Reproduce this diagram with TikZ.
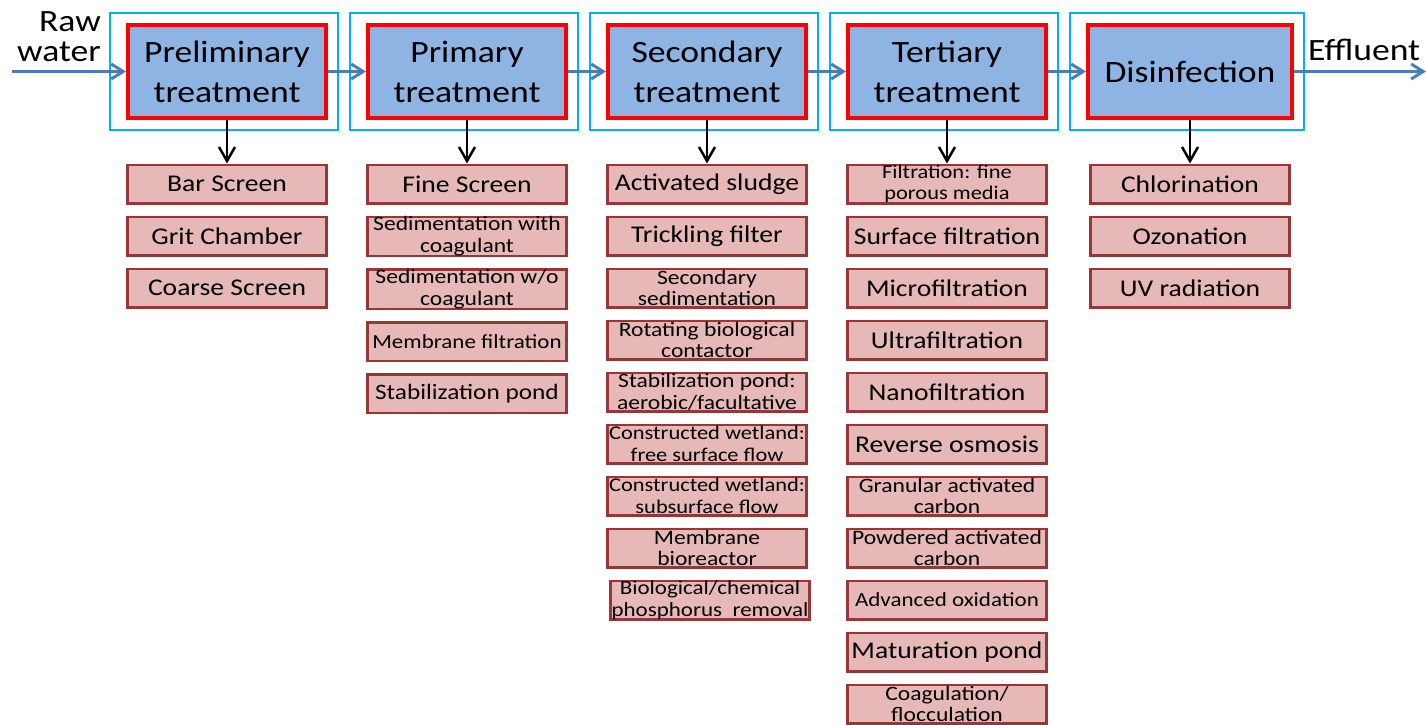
\documentclass[tikz,border=0pt]{standalone}
\usepackage{fontspec}
\setmainfont{Carlito}[FakeStretch=1.15]
\usetikzlibrary{arrows.meta, positioning}
\definecolor{stageblue}{HTML}{8EB4E3}
\definecolor{framecyan}{HTML}{00B0F0}
\definecolor{unitfill}{HTML}{E6B9B8}
\definecolor{unitline}{HTML}{953735}
\definecolor{flowblue}{HTML}{4A7EBB}
\tikzset{stage node/.style={rectangle,draw=red,fill=stageblue,line width=4pt,minimum width=198pt,minimum height=92pt,inner sep=0pt,align=center,font=\fontsize{31}{40}\selectfont},
unit node/.style={rectangle,draw=unitline,fill=unitfill,line width=2.5pt,minimum width=199pt,minimum height=38.5pt,inner sep=0pt,align=center,font=\fontsize{24}{26}\selectfont},
two lines/.style={font=\fontsize{20.5}{21.5}\selectfont},
flow/.style={draw=flowblue,line width=3pt,-{Straight Barb[length=12pt,width=15pt]}},}

\begin{document}
\begin{tikzpicture}[x=1pt, y=1pt, >={Straight Barb[length=14pt,width=16pt]}]
       \useasboundingbox (0,0) rectangle (1426,-725);
       \node[stage node] (1) at (227,-71.5) {Preliminary\\treatment};
       \node[stage node] (2) [right = 38pt of 1] {Primary\\treatment};
       \node[stage node] (3) [right = 38pt of 2] {Secondary\\treatment};
       \node[stage node] (4) [right = 38pt of 3] {Tertiary\\treatment};
       \node[stage node, minimum width=204pt] (5) [right = 38pt of 4] {Disinfection};
       
       \node[anchor=east, inner sep=0pt, align=right, font=\fontsize{31}{30}\selectfont] (raw) at (101,-37) {Raw\\water};
       \node[anchor=base west, inner sep=0pt, font=\fontsize{31}{38}\selectfont] (eff) at (1308,-60) {Effluent};
       \coordinate (in) at (12,-71.5);
       \coordinate (out) at (1426,-71.5);
       
       \node[unit node] (11) [below = 44pt of 1] {Bar Screen};
       \node[unit node] (12) [below = 11pt of 11] {Grit Chamber};
       \node[unit node] (13) [below = 11pt of 12] {Coarse Screen};
       
       \node[unit node] (21) [below = 44pt of 2] {Fine Screen};
       \node[unit node, two lines] (22) [below = 11pt of 21] {Sedimentation with\\coagulant};
       \node[unit node, two lines] (23) [below = 11pt of 22] {Sedimentation w/o\\coagulant};
       \node[unit node, font=\fontsize{20}{22}\selectfont] (24) [below = 11pt of 23] {Membrane filtration};
       \node[unit node, font=\fontsize{22}{24}\selectfont] (25) [below = 11pt of 24] {Stabilization pond};
       
       \node[unit node] (31) [below = 44pt of 3] {Activated sludge};
       \node[unit node] (32) [below = 11pt of 31] {Trickling filter};
       \node[unit node, two lines] (33) [below = 11pt of 32] {Secondary\\sedimentation};
       \node[unit node, two lines] (34) [below = 11pt of 33] {Rotating biological\\contactor};
       \node[unit node, two lines] (35) [below = 11pt of 34] {Stabilization pond:\\aerobic/facultative};
       \node[unit node, font=\fontsize{19.5}{21.5}\selectfont] (36) [below = 11pt of 35] {Constructed wetland:\\free surface flow};
       \node[unit node, font=\fontsize{19.5}{21.5}\selectfont] (37) [below = 11pt of 36] {Constructed wetland:\\subsurface flow};
       \node[unit node, two lines] (38) [below = 11pt of 37] {Membrane\\bioreactor};
       \node[unit node, font=\fontsize{20}{21.5}\selectfont] (39) [below = 11pt of 38, xshift=3pt] {Biological/chemical\\phosphorus\ \ removal};
       
       \node[unit node, font=\fontsize{19.5}{21.5}\selectfont] (41) [below = 44pt of 4] {Filtration: fine\\porous media};
       \node[unit node] (42) [below = 11pt of 41] {Surface filtration};
       \node[unit node] (43) [below = 11pt of 42] {Microfiltration};
       \node[unit node] (44) [below = 11pt of 43] {Ultrafiltration};
       \node[unit node] (45) [below = 11pt of 44] {Nanofiltration};
       \node[unit node] (46) [below = 11pt of 45] {Reverse osmosis};
       \node[unit node, two lines] (47) [below = 11pt of 46] {Granular activated\\carbon};
       \node[unit node, two lines] (48) [below = 11pt of 47] {Powdered activated\\carbon};
       \node[unit node, font=\fontsize{20}{22}\selectfont] (49) [below = 11pt of 48] {Advanced oxidation};
       \node[unit node] (410) [below = 11pt of 49] {Maturation pond};
       \node[unit node, two lines] (411) [below = 11pt of 410] {Coagulation/\\flocculation};
       
       \node[unit node] (51) [below = 44pt of 5] {Chlorination};
       \node[unit node] (52) [below = 11pt of 51] {Ozonation};
       \node[unit node] (53) [below = 11pt of 52] {UV radiation};
       
       % frames round the stages
       \foreach \n in {1,...,5}
         \draw[framecyan, line width=2pt] ([shift={(-16pt,10pt)}]\n.north west) rectangle ([shift={(10pt,-10pt)}]\n.south east);
       
       \draw[flow] (in) -- (1);
       \draw[flow] (1) -- (2);
       \draw[flow] (2) -- (3);
       \draw[flow] (3) -- (4);
       \draw[flow] (4) -- (5);
       \draw[flow] (5) -- (out);
       
       \path[draw, line width=2.5pt, ->]
       (1) edge (11)
       (2) edge (21)
       (3) edge (31)
       (4) edge (41)
       (5) edge (51);
    \end{tikzpicture}
\end{document}
